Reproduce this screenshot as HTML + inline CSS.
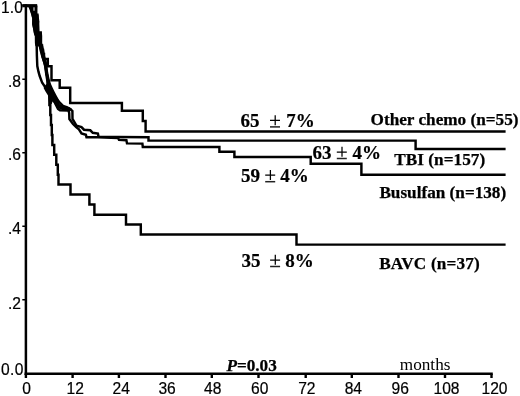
<!DOCTYPE html>
<html><head><meta charset="utf-8">
<style>
html,body{margin:0;padding:0;background:#fff;}
body{width:520px;height:396px;overflow:hidden;}
svg{display:block;filter:grayscale(1);}
.sans{font-family:"Liberation Sans",sans-serif;font-size:15.6px;fill:#000;stroke:#000;stroke-width:0.2;}
.sb{font-family:"Liberation Serif",serif;font-size:17.2px;font-weight:bold;fill:#000;stroke:#000;stroke-width:0.25;}
.nb{font-family:"Liberation Serif",serif;font-size:19px;font-weight:bold;fill:#000;stroke:#000;stroke-width:0.2;}
.sr{font-family:"Liberation Serif",serif;font-size:17.2px;fill:#000;}
.c{fill:none;stroke:#000;stroke-width:2.45;stroke-linejoin:miter;stroke-linecap:butt;}
</style></head><body>
<svg width="520" height="396" viewBox="0 0 520 396">
<rect width="520" height="396" fill="#fff"/>
<!-- axes -->
<path d="M25.9 4.2V375" fill="none" stroke="#000" stroke-width="2.5"/>
<path d="M24.6 373.8H492.8" fill="none" stroke="#000" stroke-width="2.5"/>
<!-- y ticks -->
<path d="M22.3 5.5H25M22.3 79.3H25M22.3 152.8H25M22.3 226.2H25M22.3 299.8H25" stroke="#000" stroke-width="1.6" fill="none"/>
<!-- x ticks -->
<path d="M25.9 374V378M72.6 374V378M118.9 374V378M165.5 374V378M211.8 374V378M258.5 374V378M305.7 374V378M351.8 374V378M398.5 374V378M445 374V378M491.5 374V378" stroke="#000" stroke-width="2.4" fill="none"/>
<!-- y labels -->
<text class="sans" x="1" y="13.2" textLength="22">1.0</text>
<text class="sans" x="8" y="87.2">.8</text>
<text class="sans" x="8" y="160.2">.6</text>
<text class="sans" x="8" y="234.2">.4</text>
<text class="sans" x="8" y="308.8">.2</text>
<text class="sans" x="1" y="375.4" textLength="22.4">0.0</text>
<!-- x labels -->
<text class="sans" x="22.3" y="394.2">0</text>
<text class="sans" x="66.6" y="394.2">12</text>
<text class="sans" x="112.5" y="394.2">24</text>
<text class="sans" x="158.4" y="394.2">36</text>
<text class="sans" x="204" y="394.2">48</text>
<text class="sans" x="251" y="394.2">60</text>
<text class="sans" x="298.2" y="394.2">72</text>
<text class="sans" x="344.7" y="394.2">84</text>
<text class="sans" x="391.5" y="394.2">96</text>
<text class="sans" x="433.5" y="394.2">108</text>
<text class="sans" x="481.5" y="394.2">120</text>
<!-- curves -->
<!-- top line -->
<path d="M22.3 5.7H37.2" fill="none" stroke="#000" stroke-width="3.2"/>
<path id="mass" fill="#000" stroke="none" d="M37.1 6.5V14.6L38.5 14.8L39.2 20L39 24L39.3 30L39.4 32.2L41.9 32.6L42.2 36L42.2 43L43.2 46L44.2 50.3L45.2 56.2L46.7 61.3L47.5 66.3L48 71L48.8 75.3L49.8 80L51 84L52.8 88L54.5 91.6L56.6 95.4L59.4 100.4L60.5 102.5L56 104.8L52.5 101.5L51.8 104L49.2 104L48.6 100.4L48 95.4L45.5 91.6L43.6 88L44.5 86L45.2 85.5L46.3 84L46 80L45.2 75.3L44.6 71L44.2 66.3L42.7 61.3L41.2 56.2L40.2 50.3L38.5 46.3L35.5 46.3L35 43L35 36L34 33.5L33.4 30L32.2 24L32.3 18.4L31.2 14L30 9.5L29 7.3L28.8 6.5H33.3V10.8H34.8V6.5Z"/>
<path d="M55.5 101.5L58.5 106L63 108L68 108.8L70.6 110.6" fill="none" stroke="#000" stroke-width="4.2" stroke-linejoin="round"/>
<!-- Other chemo -->
<path class="c" id="oc" d="M36 5.5V14.6H37.4V22H38.1V32.5H40.7V45.5H42V50H43V54H44V58.9H47.8V66.2H51.5V80.3H59.7V87.8H70.2V103H121.9V110.8H142.8V120.9H145.6V131.4H505.6"/>
<!-- TBI -->
<path class="c" id="tbi" d="M32.1 5.5V11L33.3 14L35 20L36.5 27L38 34L39.2 42L40.6 50L42.5 57L44.4 62.6L45.8 69L47 75L49 84L51 90L52.8 95.4L56 99L60 102.8L63 105.8L66.5 107L70.5 109.3L72.4 111L72.5 119L76.6 125.8L81.5 127.1L84 129.7L90.3 130.3L92.8 132.8L97.9 133.5L98.5 136.6L118 137L148.5 137.3V140.6H415.6V149H505.6"/>
<!-- Busulfan -->
<path class="c" id="bu" d="M29.2 5.5L30.2 8L31 10L32.3 14L33.4 18.4L33.3 24L34.5 30L35.1 33.5L36 36L36.1 43L36.7 46L36.9 56L37.3 66L38.4 71.4L39.7 76L42.2 82.8L46.5 89L51 95.5L54 101L56.5 106L58 108.8L60 110.2L68.4 110.5L69.2 113L69.4 119L73 124L76.2 127.2L78.9 129.3L81.5 133.5L85.9 134.7L86.5 137.2H97.9L118 138L119 139.8L126.4 140.2L127 143.4L142.4 143.6L142.8 147H219.4V151.7H234.4V157H310.7V163.8H361.4V174.7H505.6"/>
<!-- BAVC -->
<path class="c" id="bavc" d="M36 5.5V15L37 25L38 33L40 40L40.9 46L42.2 50.3L43.2 56.2L44.7 61.3L45.8 66.3L46.3 71L47 75.3L48 80L48.8 88L49.4 95V105.1H50.3V115H51V125H51.8V134.9H52.4V144.9H54.2V154.8H56.3V164.7H57.8V174.7H58.5V184.5H70.5V194.5H89.4V204.5H94.4V214.7H126V224.5H140.8V234.5H296.5V244.6H505.6"/>
<!-- labels -->
<text class="nb" x="240.6" y="127.3">65</text><path d="M270 120.4H280M275.2 115.2V125.2" stroke="#000" stroke-width="1.25" fill="none"/><path d="M270 126.9H280" stroke="#222" stroke-width="1.5" fill="none"/><text class="nb" x="286.3" y="127.3">7%</text>
<text class="nb" x="312.5" y="158.9">63</text><path d="M336.8 152.0H346.8M342.0 146.79999999999998V156.79999999999998" stroke="#000" stroke-width="1.25" fill="none"/><path d="M336.8 158.5H346.8" stroke="#222" stroke-width="1.5" fill="none"/><text class="nb" x="352.6" y="158.9">4%</text>
<text class="nb" x="241.0" y="182.1">59</text><path d="M265.2 175.20000000000002H275.2M270.4 170.0V180.0" stroke="#000" stroke-width="1.25" fill="none"/><path d="M265.2 181.7H275.2" stroke="#222" stroke-width="1.5" fill="none"/><text class="nb" x="280.3" y="182.1">4%</text>
<text class="nb" x="241.4" y="266.9">35</text><path d="M270.1 260.0H280.1M275.3 254.8V264.8" stroke="#000" stroke-width="1.25" fill="none"/><path d="M270.1 266.5H280.1" stroke="#222" stroke-width="1.5" fill="none"/><text class="nb" x="285.2" y="266.9">8%</text>
<text class="sb" x="370.6" y="125.3">Other chemo (n=55)</text>
<text class="sb" x="394.2" y="164.7" textLength="91">TBI (n=157)</text>
<text class="sb" x="379.4" y="198.3">Busulfan (n=138)</text>
<text class="sb" x="379.2" y="269.2" textLength="100.6">BAVC (n=37)</text>
<text class="sb" x="226.4" y="370.6"><tspan font-style="italic">P</tspan>=0.03</text>
<text class="sr" x="399.8" y="370.2">months</text>
</svg>
</body></html>
